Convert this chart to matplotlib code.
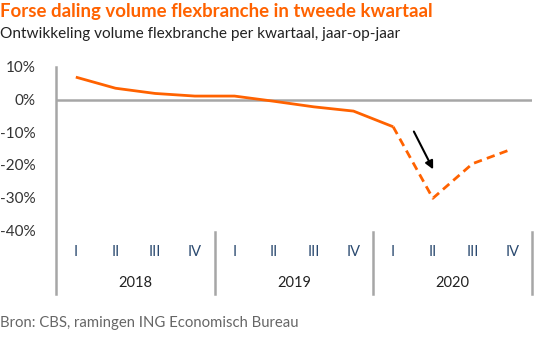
import matplotlib
matplotlib.use("Agg")
import matplotlib.pyplot as plt

plt.rcParams['font.family'] = ['Lato', 'DejaVu Sans']

years = ["2018", "2019", "2020"]
quarters = ["I", "II", "III", "IV"]
values = [6.9, 3.5, 1.9, 1.1, 1.1, -0.5, -2.2, -3.5, -8.3, -30.2, -19.6, -15.1]
forecast_start = 8  # index from which the line is dashed (estimate)
yticks = [10, 0, -10, -20, -30, -40]

ORANGE = "#FF6200"
GRID = "#a6a6a6"
TEXT = "#333333"

W, H = 550, 339
fig = plt.figure(figsize=(W / 100, H / 100), dpi=100)
ax = fig.add_axes([56 / W, 1 - 294 / H, (532 - 56) / W, (294 - 67) / H])

n = len(values)
x = list(range(n))
ax.plot(x[:forecast_start + 1], values[:forecast_start + 1], color=ORANGE, lw=2, solid_capstyle='butt', zorder=3)
ax.plot(x[forecast_start:], values[forecast_start:], color=ORANGE, lw=2, ls=(0, (3, 1.9)), zorder=3)

ax.set_xlim(-0.5, n - 0.5)
ax.set_ylim(-59.5, 10)
ax.axhline(0, color=GRID, lw=1.8, zorder=2)

for s in ["top", "right", "bottom"]:
    ax.spines[s].set_visible(False)
ax.spines["left"].set_color(GRID)
ax.spines["left"].set_linewidth(1.8)

ax.set_xticks([])
ax.set_yticks(yticks)
ax.set_yticklabels([f"{v}%" for v in yticks], fontsize=11, color=TEXT)
ax.tick_params(axis='y', length=0, pad=15)

# year separators
for k in range(1, len(years) + 1):
    ax.plot([k * 4 - 0.5] * 2, [-40.4, -59.5], color=GRID, lw=1.8, clip_on=False)

# quarter and year labels
for yi, yr in enumerate(years):
    for qi, q in enumerate(quarters):
        ax.text(yi * 4 + qi, -46.5, q, ha='center', va='center', fontsize=10.5, color="#2b4a70")
    ax.text(yi * 4 + 1.5, -56, yr, ha='center', va='center', fontsize=10.5, color="#222222")

# arrow
ax.annotate("", xy=(9.04, -22.1), xytext=(8.49, -9.0),
            arrowprops=dict(arrowstyle="-|>", color="black", lw=1.5, mutation_scale=12))

fig.text(0, 1 - 12 / H, "Forse daling volume flexbranche in tweede kwartaal",
         fontsize=13.4, fontweight='bold', color=ORANGE, ha='left', va='center')
fig.text(0, 1 - 34 / H, "Ontwikkeling volume flexbranche per kwartaal, jaar-op-jaar",
         fontsize=11.1, color="#222222", ha='left', va='center')
fig.text(0, 1 - 323 / H, "Bron: CBS, ramingen ING Economisch Bureau",
         fontsize=10.7, color="#666666", ha='left', va='center')

fig.savefig("out.png", dpi=100)
